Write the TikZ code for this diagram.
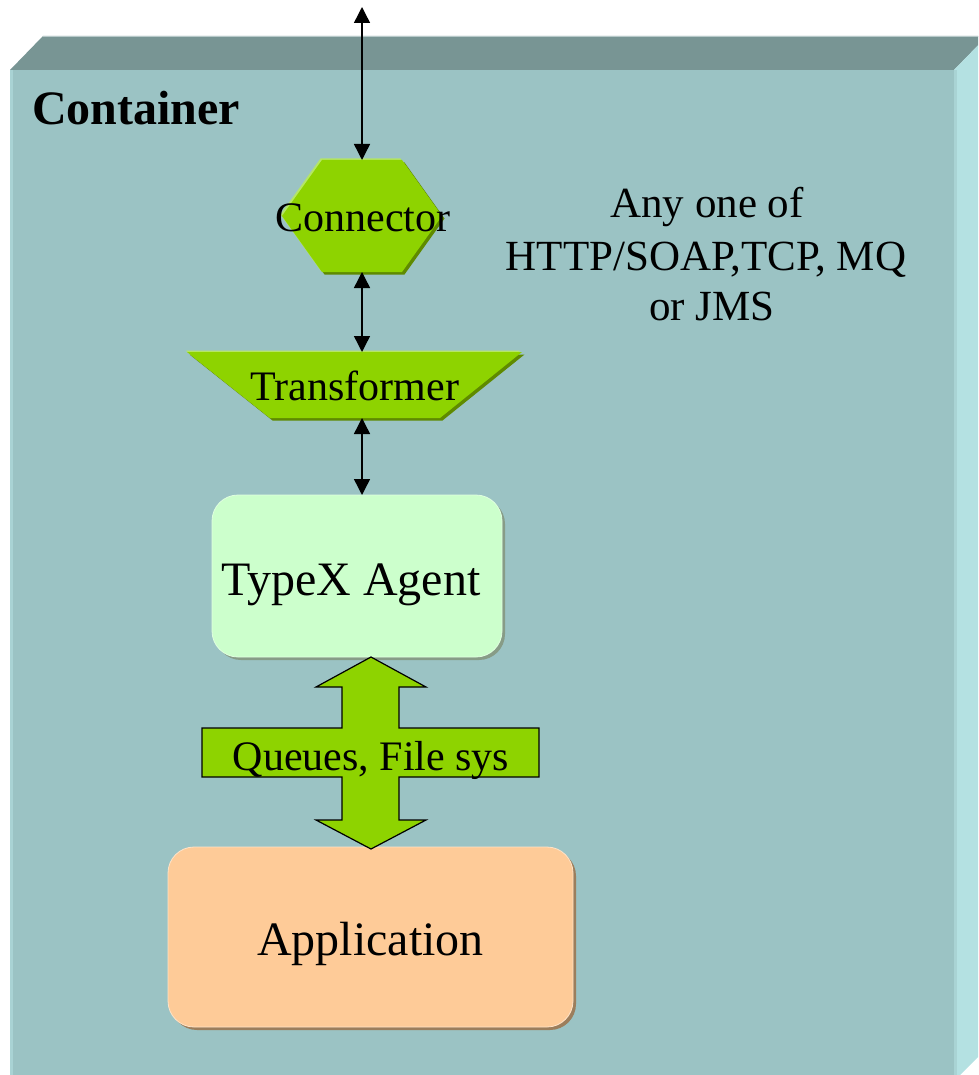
\documentclass[tikz,border=0pt]{standalone}
\usepackage{fontspec}
\setmainfont{Liberation Serif}
\usetikzlibrary{arrows.meta,shadows}
\definecolor{front}{HTML}{9BC3C4}
\definecolor{topf}{HTML}{789594}
\definecolor{topedge}{HTML}{B7C9C9}
\definecolor{side}{HTML}{B4E1E2}
\definecolor{fronthl}{HTML}{A9D3D4}
\definecolor{grn}{HTML}{8ED300}
\definecolor{grnhl}{HTML}{B5E665}
\definecolor{grnsh}{HTML}{5F8A00}
\definecolor{mint}{HTML}{CCFFCC}
\definecolor{mintsh}{HTML}{879C87}
\definecolor{peach}{HTML}{FECB98}
\definecolor{peachhl}{HTML}{FFE3C8}
\definecolor{peachsh}{HTML}{9C7E5C}
\begin{document}
\begin{tikzpicture}[x=1pt,y=-1pt,
  lbl/.style={inner sep=0pt, font=\fontsize{42}{50}\selectfont},
  notelbl/.style={inner sep=0pt, font=\fontsize{43}{50}\selectfont},
  biglbl/.style={inner sep=0pt, font=\fontsize{48}{56}\selectfont},
  conarrow/.style={{Triangle[width=16pt,length=16pt]}-{Triangle[width=16pt,length=16pt]}, line width=1.4pt},
  anchorbox/.style={inner sep=0pt, outer sep=0pt},
  roundbox/.style={anchorbox, rounded corners=26pt, drop shadow={shadow xshift=3pt, shadow yshift=-3pt, opacity=1, fill=#1}},
]
\useasboundingbox (0,0) rectangle (978,1075);
\clip (0,0) rectangle (978,1075);
% ---- container box ----
\fill[topf] (10,70) -- (43,36) -- (987,36) -- (954,70) -- cycle;
\draw[topedge, line width=1.2pt] (43,36.6) -- (987,36.6);
\fill[side] (954,70) -- (987,36) -- (987,1048) -- (954,1081) -- cycle;
\fill[front] (10,70) rectangle (954,1090);
\fill[fronthl] (10,70) rectangle (13,1090);
\fill[fronthl] (954,70) rectangle (957,1090);
\node[anchor=base west, inner sep=0pt, font=\bfseries\fontsize{48}{56}\selectfont] (ctitle) at (32,125) {Container};
% ---- connector hexagon ----
\node[anchorbox, minimum width=160pt, minimum height=112pt] (conn) at (362,216) {};
\fill[grnsh] (324.5,162.5) -- (404.5,162.5) -- (444.5,218.5) -- (404.5,274.5) -- (324.5,274.5) -- (284.5,218.5) -- cycle;
\fill[grnhl] (320.5,158.5) -- (400.5,158.5) -- (440.5,214.5) -- (400.5,270.5) -- (320.5,270.5) -- (280.5,214.5) -- cycle;
\fill[grn] (322,160) -- (402,160) -- (442,216) -- (402,272) -- (322,272) -- (282,216) -- cycle;
\node[lbl, anchor=base] (conntxt) at (363,232) {Connector};
% ---- transformer trapezoid ----
\node[anchorbox, minimum width=335pt, minimum height=66pt] (trans) at (354.5,385) {};
\fill[grnsh] (189.5,354.5) -- (524.5,354.5) -- (442.5,420.5) -- (272.5,420.5) -- cycle;
\fill[grnhl] (185.5,350.5) -- (520.5,350.5) -- (438.5,416.5) -- (268.5,416.5) -- cycle;
\fill[grn] (187,352) -- (522,352) -- (440,418) -- (270,418) -- cycle;
\node[lbl, anchor=base] (transtxt) at (355,400) {Transformer};
% ---- TypeX agent ----
\node[roundbox=mintsh, fill=mint, draw=mint!60!white, line width=0.8pt, minimum width=290pt, minimum height=162pt] (agent) at (357,576) {};
\node[biglbl, anchor=base] (agenttxt) at (351,595) {TypeX Agent};
% ---- application ----
\node[roundbox=peachsh, fill=peach, draw=peachhl, line width=0.8pt, minimum width=405pt, minimum height=180pt] (app) at (370.5,937) {};
\node[biglbl, anchor=base] (apptxt) at (370.5,955) {Application};
% ---- thin connectors ----
\coordinate (outside) at (362,7);
\draw[conarrow] (outside) -- (outside |- conn.north);
\draw[conarrow] (outside |- conn.south) -- (outside |- trans.north);
\draw[conarrow] (outside |- trans.south) -- (outside |- agent.north);
% ---- block double arrow ----
\draw[fill=grn, line width=1.2pt, line join=miter]
  (371,657) -- (426,687) -- (399,687) -- (399,728) -- (539,728) -- (539,777)
  -- (399,777) -- (399,820) -- (426,820) -- (371,849) -- (316,820) -- (342,820)
  -- (342,777) -- (202,777) -- (202,728) -- (342,728) -- (342,687) -- (316,687) -- cycle;
\node[lbl, anchor=base] (queuetxt) at (371,770) {Queues, File sys};
% ---- protocol note ----
\node[notelbl, anchor=base] (any1) at (707,218) {Any one of};
\node[notelbl, anchor=base] (any2) at (706,270) {HTTP/SOAP,TCP, MQ};
\node[notelbl, anchor=base] (any3) at (712,320) {or JMS};
\end{tikzpicture}
\end{document}
